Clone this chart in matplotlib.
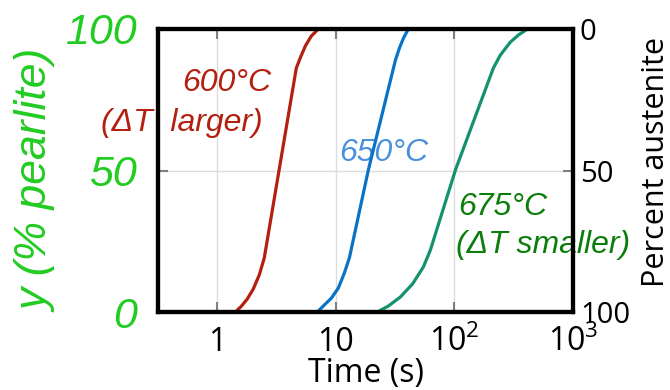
import matplotlib.pyplot as plt

plt.rcParams['mathtext.fontset'] = 'custom'
plt.rcParams['mathtext.rm'] = 'Open Sans'
plt.rcParams['mathtext.it'] = 'Open Sans:italic'

# --- curvas (tempo em s, % perlita) ---
t_600 = [1.42, 1.60, 1.79, 2.01, 2.26, 2.49, 4.64, 5.01, 5.53, 6.21, 7.11]
y_600 = [0, 2.1, 4.6, 8.1, 13.1, 19.1, 86.2, 89.8, 94.0, 97.5, 100]

t_650 = [6.98, 8.0, 9.17, 10.5, 11.8, 13.0, 18.8, 31.8, 34.4, 37.2, 40.9]
y_650 = [0, 2.5, 4.9, 8.5, 13.8, 19.1, 50.2, 89, 93.3, 96.8, 100]

t_675 = [22.4, 27.7, 35.0, 44.3, 54.7, 62.7, 102, 213, 244, 297, 347, 413]
y_675 = [0, 2.1, 5.3, 9.9, 15.9, 21.9, 50.2, 86.2, 90.8, 95.4, 97.9, 100]

xticks = [1, 10, 100, 1000]
xtick_labels = ['1', '10', r'$10^{2}$', r'$10^{3}$']
yticks = [0, 50, 100]

cor_red = '#b3200f'
cor_blue = '#0a73c6'
cor_green = '#14916f'

fig = plt.figure(figsize=(6.7, 3.9), dpi=100)
ax = fig.add_axes([158 / 670, 78 / 390, 415 / 670, 283 / 390])

ax.plot(t_600, y_600, color=cor_red, lw=2.3, solid_joinstyle='round')
ax.plot(t_650, y_650, color=cor_blue, lw=2.3, solid_joinstyle='round')
ax.plot(t_675, y_675, color=cor_green, lw=2.3, solid_joinstyle='round')

ax.set_xscale('log')
ax.set_xlim(10 ** -0.5, 1000)
ax.set_ylim(0, 100)
ax.minorticks_off()

# grade clara
for xv in xticks[:-1]:
    ax.axvline(xv, color='#dcdcdc', lw=1, zorder=0)
ax.axhline(50, color='#dcdcdc', lw=1, zorder=0)

ax.set_xticks(xticks)
ax.set_xticklabels(xtick_labels, fontsize=23, family='Open Sans')
ax.tick_params(axis='x', direction='in', length=7, width=1.5, color='#808080',
               top=True, pad=10)

ax.set_yticks(yticks)
ax.set_yticklabels([str(v) for v in yticks], fontsize=31, color='#22cc22',
                   style='italic', family='Liberation Sans')
ax.tick_params(axis='y', direction='in', length=7, width=1.5, color='#808080', pad=15)

ax.set_xlabel('Time (s)', fontsize=23, family='Open Sans', labelpad=-2)
ax.set_ylabel('y (% pearlite)', fontsize=32, color='#22cc22', style='italic',
              family='Liberation Sans')
ax.yaxis.set_label_coords(-0.241, 0.465)

ax2 = ax.twinx()
ax2.set_ylim(100, 0)
ax2.set_yticks(yticks)
ax2.set_yticklabels([str(v) for v in yticks], fontsize=21, family='Open Sans')
ax2.tick_params(axis='y', direction='in', length=7, width=1.5, color='#808080', pad=5)
ax2.set_ylabel('Percent austenite', fontsize=22, family='Open Sans')
ax2.yaxis.set_label_coords(1.163, 0.53)

for a in (ax, ax2):
    for s in a.spines.values():
        s.set_linewidth(3)
        s.set_zorder(10)

# rótulos das curvas
txt = dict(fontsize=23, style='italic', family='Liberation Sans', ha='center',
           va='center', clip_on=False, zorder=1)
ax.text(1.21, 81, '600°C', color=cor_red, **txt)
ax.text(0.5, 66.8, '(ΔT  larger)', color=cor_red, **txt)
ax.text(25.2, 56.2, '650°C', color='#4a90dc', **txt)
ax.text(257, 37.2, '675°C', color='#0b7d0b', **txt)
ax.text(560, 23.7, '(ΔT smaller)', color='#0b7d0b', **txt)

fig.savefig('out.png', dpi=100)
